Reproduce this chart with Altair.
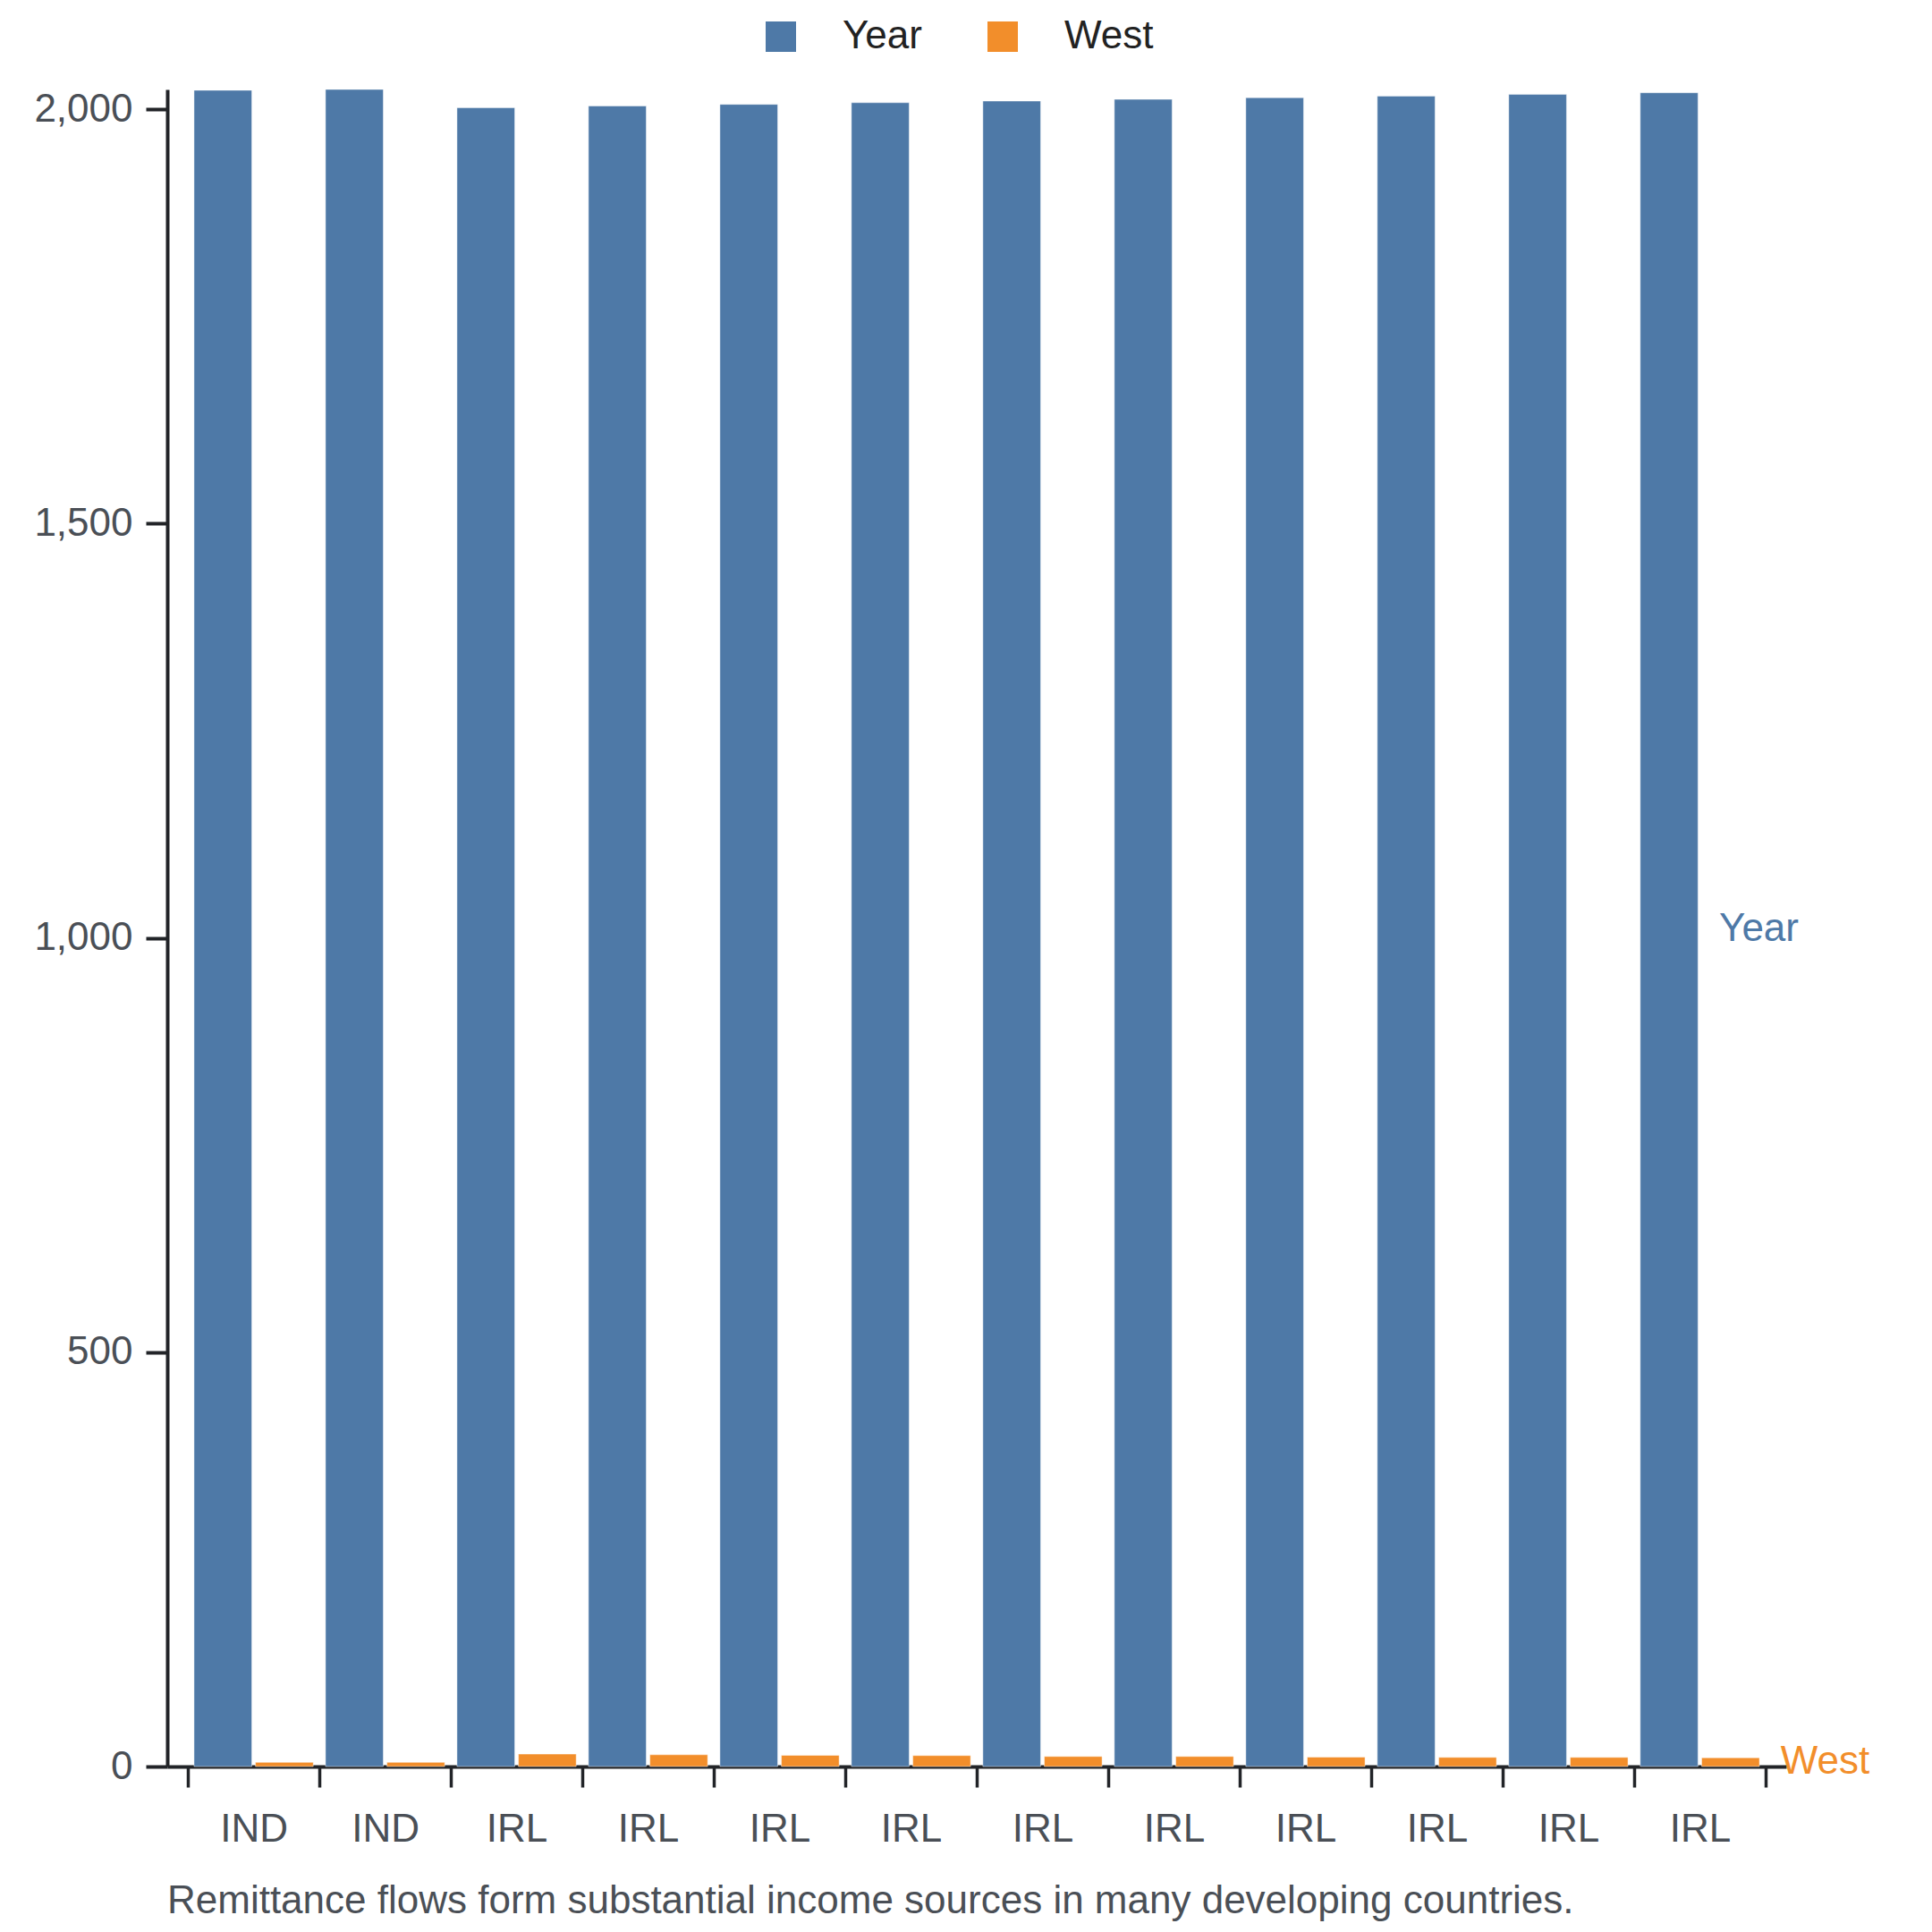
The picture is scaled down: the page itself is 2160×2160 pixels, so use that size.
import altair as alt
import pandas as pd

# ---- data ----
countries = ["IND", "IND", "IRL", "IRL", "IRL", "IRL", "IRL", "IRL", "IRL", "IRL", "IRL", "IRL"]
year_values = [2023, 2024, 2002, 2004, 2006, 2008, 2010, 2012, 2014, 2016, 2018, 2020]
west_values = [5, 5, 15, 14.2, 13.5, 13.2, 12.1, 12.1, 11.3, 11, 11, 10.6]
series_names = ["Year", "West"]
series_colors = ["#4e79a7", "#f28e2b"]
y_ticks = [0, 500, 1000, 1500, 2000]
caption = "Remittance flows form substantial income sources in many developing countries."

rows = []
keys = []
for i, (c, yv, wv) in enumerate(zip(countries, year_values, west_values)):
    key = f"{i:02d}|{c}"
    keys.append(key)
    rows.append({"key": key, "idx": i, "series": "Year", "value": yv})
    rows.append({"key": key, "idx": i, "series": "West", "value": wv})
df = pd.DataFrame(rows)
last_idx = len(countries) - 1

FONT = "Liberation Sans, Arial, Helvetica, sans-serif"
AXIS_DARK = "#222428"
LABEL_GREY = "#4a4f56"

x_axis = alt.Axis(
    title=None,
    labelExpr="split(datum.label, '|')[1]",
    labelAngle=0,
    tickBand="extent",
    tickSize=23,
    tickWidth=3.5,
    tickColor=AXIS_DARK,
    domainWidth=4,
    domainColor=AXIS_DARK,
    labelPadding=25,
    labelFontSize=44,
    labelFont=FONT,
    labelColor=LABEL_GREY,
    grid=False,
)
y_axis = alt.Axis(
    title=None,
    values=y_ticks,
    format=",.0f",
    tickSize=24,
    tickWidth=4,
    tickColor=AXIS_DARK,
    domainWidth=4,
    domainColor=AXIS_DARK,
    labelPadding=15,
    labelFontSize=44,
    labelFont=FONT,
    labelColor=LABEL_GREY,
    grid=False,
)

x_enc = alt.X("key:N", sort=keys, axis=x_axis,
              scale=alt.Scale(paddingInner=0, paddingOuter=0.157))
xoff_enc = alt.XOffset("series:N", sort=series_names,
                       scale=alt.Scale(paddingInner=0.06, paddingOuter=0.1))
color_scale = alt.Scale(domain=series_names, range=series_colors)
y_scale = alt.Scale(zero=True, nice=False)

bars = alt.Chart(df).mark_bar(
    stroke="#ffffff", strokeWidth=1, strokeOpacity=0.45
).encode(
    x=x_enc,
    xOffset=xoff_enc,
    y=alt.Y("value:Q", axis=y_axis, scale=y_scale),
    color=alt.Color(
        "series:N", scale=color_scale, sort=series_names,
        legend=alt.Legend(
            title=None,
            orient="none",
            legendX=664,
            legendY=-81,
            direction="horizontal",
            symbolType="square",
            symbolSize=1156,
            symbolStrokeWidth=0,
            labelFontSize=44,
            labelFont=FONT,
            labelColor="#222222",
            labelOffset=47,
            columnPadding=68,
            padding=0,
        ),
    ),
)

labels = alt.Chart(df).transform_filter(
    alt.datum.idx == last_idx
).transform_calculate(
    half="datum.value / 2"
).mark_text(
    align="left", baseline="middle", dx=56, fontSize=44, font=FONT
).encode(
    x=x_enc,
    xOffset=xoff_enc,
    y=alt.Y("half:Q", axis=y_axis, scale=y_scale),
    color=alt.Color("series:N", scale=color_scale, legend=None),
    text="series:N",
)

chart = alt.layer(bars, labels).properties(
    width=1810,
    height=1875,
    title=alt.TitleParams(
        caption, orient="bottom", anchor="start", frame="group", fontSize=44,
        font=FONT, color=LABEL_GREY, fontWeight="normal", offset=37,
    ),
    autosize=alt.AutoSizeParams(type="none"),
    padding={"left": 179, "top": 92, "right": 150, "bottom": 178},
).configure_view(stroke=None)

chart.save("out.html", embed_options={"renderer": "svg", "actions": False})
